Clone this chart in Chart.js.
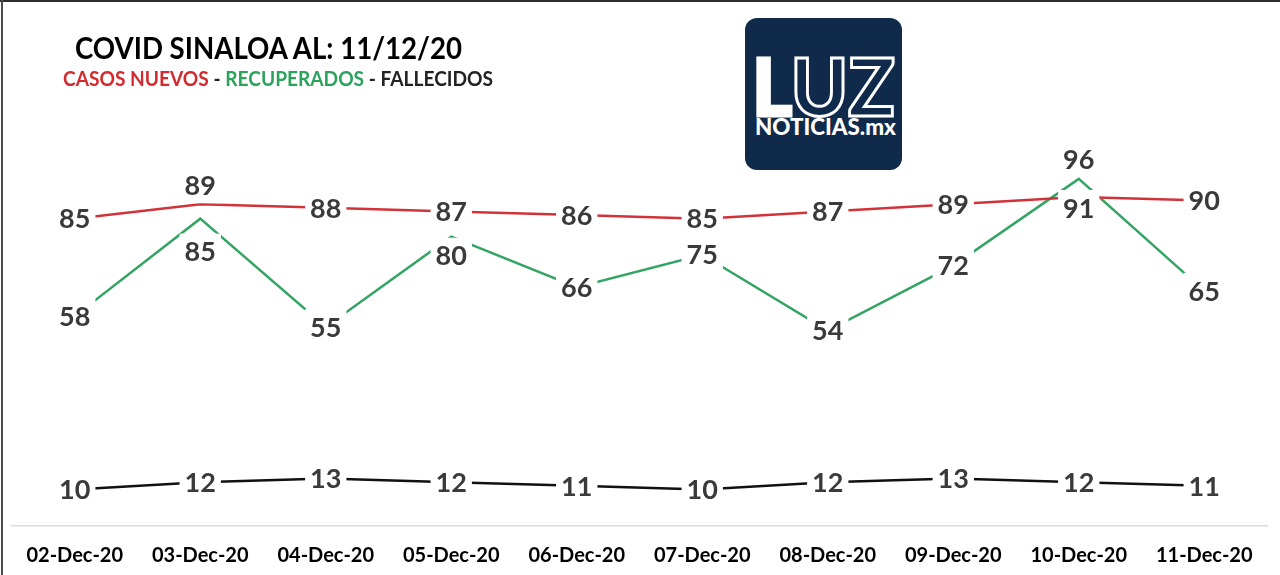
<!DOCTYPE html>
<html>
<head>
<meta charset="utf-8">
<script src="https://cdn.jsdelivr.net/npm/chart.js@4.4.1/dist/chart.umd.min.js"></script>
<style>
  html, body { margin:0; padding:0; background:#fff; }
  #wrap { position:relative; width:1280px; height:575px; overflow:hidden; background:#fff; font-family: Lato, "Open Sans", sans-serif; }
  #c { position:absolute; left:0; top:0; }
  .fit { position:absolute; white-space:nowrap; line-height:1; transform-origin:0 0; font-weight:bold; }
  #frameTop { position:absolute; left:0; top:0; width:1280px; height:2px; background:#2e2e2e; }
  #frameLeft { position:absolute; left:1px; top:0; width:2px; height:575px; background:#4a4a4a; }
  #logo { position:absolute; left:745px; top:18px; width:157px; height:152px; background:#0f2a4a; border-radius:12px; }
</style>
</head>
<body>
<div id="wrap">
  <canvas id="c" width="1280" height="575"></canvas>
  <div id="frameTop"></div>
  <div id="frameLeft"></div>
  <div id="title" class="fit" style="font-size:30px;color:#000;">COVID SINALOA AL: 11/12/20</div>
  <div id="subtitle" class="fit" style="font-size:20px;"><span style="color:#d42a2f">CASOS NUEVOS</span><span style="color:#222"> - </span><span style="color:#2ca35c">RECUPERADOS</span><span style="color:#222"> - FALLECIDOS</span></div>
  <div id="logo"></div>
  <div id="luz" class="fit" style="font-size:80px;font-weight:900;color:#0f2a4a;-webkit-text-stroke:3px #fff;"><span style="color:#fff">L</span>UZ</div>
  <div id="noticias" class="fit" style="font-size:23px;font-weight:900;color:#fff;">NOTICIAS.mx</div>
</div>
<script>
// ---- data ----
const categories = ['02-Dec-20','03-Dec-20','04-Dec-20','05-Dec-20','06-Dec-20','07-Dec-20','08-Dec-20','09-Dec-20','10-Dec-20','11-Dec-20'];
const casosNuevos = [85, 89, 88, 87, 86, 85, 87, 89, 91, 90];
const recuperados = [58, 85, 55, 80, 66, 75, 54, 72, 96, 65];
const fallecidos  = [10, 12, 13, 12, 11, 10, 12, 13, 12, 11];

// label placement (style only: vertical shift of data labels in px)
const casosLabelShift = [0, -19, 0, 0, 0, 0, 0, 0, 11, 0];
const recupLabelShift = [0, 33, 0, 19, 0, 0, 0, 0, -20, 0];

// ---- overlays: fit text widths / positions (baseline-based) ----
function place(id, left, baseline, targetWidth) {
  const el = document.getElementById(id);
  const fs = parseFloat(el.style.fontSize);
  // Lato: baseline ~0.78em below top with line-height 1
  el.style.left = left + 'px';
  el.style.top = (baseline - 0.78 * fs) + 'px';
  const w = el.getBoundingClientRect().width;
  if (targetWidth && w > 0) el.style.transform = 'scaleX(' + (targetWidth / w) + ')';
}
place('title', 75, 55, 387);
place('subtitle', 63, 84, 430);
place('luz', 752, 107, 143);
place('noticias', 755, 133, 141);

// ---- data labels plugin ----
const labelPlugin = {
  id: 'dataLabels',
  afterDatasetsDraw(chart) {
    const ctx = chart.ctx;
    const fontSize = 27;
    ctx.save();
    ctx.font = 'bold ' + fontSize + 'px Lato';
    const items = [];
    chart.data.datasets.forEach((ds, d) => {
      const meta = chart.getDatasetMeta(d);
      ds.data.forEach((v, i) => {
        const el = meta.data[i];
        const shift = ds.labelShift ? ds.labelShift[i] : 0;
        const txt = String(v);
        const w = ctx.measureText(txt).width;
        items.push({ x: el.x, y: el.y + shift, txt, w });
      });
    });
    ctx.fillStyle = '#ffffff';
    items.forEach(it => ctx.fillRect(it.x - it.w / 2 - 5, it.y - 18, it.w + 10, 36));
    ctx.fillStyle = '#3a3a3a';
    ctx.textAlign = 'center';
    ctx.textBaseline = 'alphabetic';
    items.forEach(it => ctx.fillText(it.txt, it.x, it.y + 0.36 * fontSize));
    ctx.restore();
  }
};

new Chart(document.getElementById('c'), {
  type: 'line',
  data: {
    labels: categories,
    datasets: [
      { label: 'Casos nuevos', data: casosNuevos, borderColor: '#d23339', borderWidth: 2.5, pointRadius: 0, tension: 0, labelShift: casosLabelShift },
      { label: 'Recuperados', data: recuperados, borderColor: '#34a464', borderWidth: 2.5, pointRadius: 0, tension: 0, labelShift: recupLabelShift },
      { label: 'Fallecidos', data: fallecidos, borderColor: '#111111', borderWidth: 2.5, pointRadius: 0, tension: 0 }
    ]
  },
  options: {
    responsive: false,
    animation: false,
    layout: { padding: { top: 164.5, left: 12, right: 13, bottom: 0 } },
    plugins: { legend: { display: false }, tooltip: { enabled: false }, title: { display: false } },
    scales: {
      x: {
        offset: true,
        grid: { display: false, drawTicks: false },
        border: { display: true, color: '#dcdcdc', width: 1.5 },
        ticks: { font: { family: 'Lato', weight: 'bold', size: 20 }, color: '#000', padding: 18, maxRotation: 0, autoSkip: false },
        afterFit(s) { s.height = 49.5; }
      },
      y: { display: false, min: 0, max: 100 }
    }
  },
  plugins: [labelPlugin]
});
</script>
</body>
</html>
